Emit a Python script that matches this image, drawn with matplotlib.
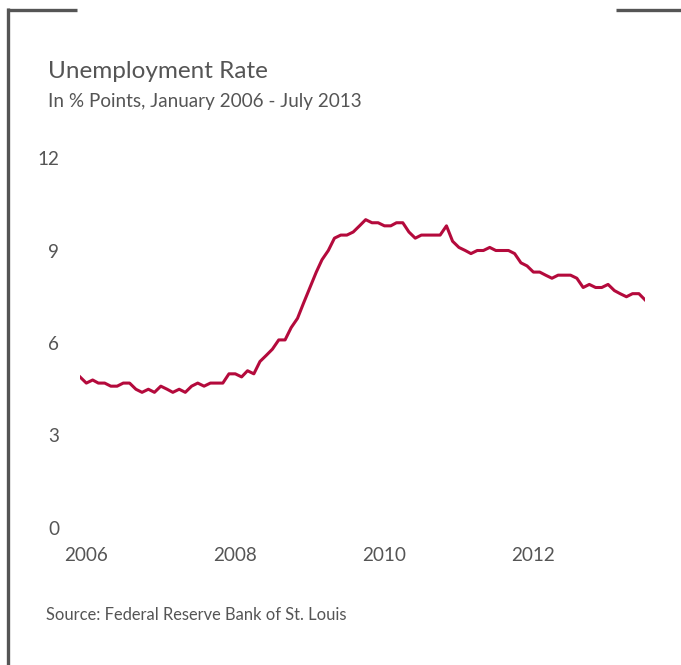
import matplotlib
matplotlib.use("Agg")
import matplotlib.pyplot as plt
from matplotlib.lines import Line2D
import pandas as pd

# ---------------------------------------------------------------------
# Data (monthly unemployment rate, %)
# ---------------------------------------------------------------------
start_month = "2005-12"
rate = [
    4.9,
    4.7, 4.8, 4.7, 4.7, 4.6, 4.6, 4.7, 4.7, 4.5, 4.4, 4.5, 4.4,
    4.6, 4.5, 4.4, 4.5, 4.4, 4.6, 4.7, 4.6, 4.7, 4.7, 4.7, 5.0,
    5.0, 4.9, 5.1, 5.0, 5.4, 5.6, 5.8, 6.1, 6.1, 6.5, 6.8, 7.3,
    7.8, 8.3, 8.7, 9.0, 9.4, 9.5, 9.5, 9.6, 9.8, 10.0, 9.9, 9.9,
    9.8, 9.8, 9.9, 9.9, 9.6, 9.4, 9.5, 9.5, 9.5, 9.5, 9.8, 9.3,
    9.1, 9.0, 8.9, 9.0, 9.0, 9.1, 9.0, 9.0, 9.0, 8.9, 8.6, 8.5,
    8.3, 8.3, 8.2, 8.1, 8.2, 8.2, 8.2, 8.1, 7.8, 7.9, 7.8, 7.8,
    7.9, 7.7, 7.6, 7.5, 7.6, 7.6, 7.4,
]
dates = pd.date_range(start_month, periods=len(rate), freq="MS")

year_ticks = ["2006", "2008", "2010", "2012"]
y_ticks = [0, 3, 6, 9, 12]

TEXT = "#555555"
LINE = "#B40A3C"
FONT = "Lato"

plt.rcParams.update({"font.family": [FONT, "DejaVu Sans"]})

W, H = 681, 665
fig = plt.figure(figsize=(W / 100, H / 100), dpi=100)

ax = fig.add_axes([80 / W, 137 / H, (645 - 80) / W, (507 - 137) / H])
ax.plot(dates, rate, color=LINE, linewidth=2.2, solid_joinstyle="round")

ax.set_xlim(dates[0], dates[-1])
ax.set_ylim(0, 12)
ax.set_yticks(y_ticks, [str(v) for v in y_ticks])
ax.set_xticks(pd.to_datetime([f"{y}-01-01" for y in year_ticks]), year_ticks)

for side in ax.spines.values():
    side.set_visible(False)
ax.tick_params(axis="both", length=0, labelsize=13.6, colors=TEXT)
ax.tick_params(axis="y", pad=15)
ax.tick_params(axis="x", pad=14)

fig.text(48 / W, 1 - 72 / H, "Unemployment Rate", fontsize=17.5,
         color=TEXT, ha="left", va="center")
fig.text(48 / W, 1 - 102 / H, "In % Points, January 2006 - July 2013",
         fontsize=13.6, color=TEXT, ha="left", va="center")
fig.text(46 / W, 1 - 615 / H, "Source: Federal Reserve Bank of St. Louis",
         fontsize=11.9, color=TEXT, ha="left", va="center")

# frame brackets
frame = dict(color="#555555", linewidth=2.4, solid_capstyle="butt")
fig.add_artist(Line2D([8 / W, 8 / W], [1 - 8 / H, 0], **frame))
fig.add_artist(Line2D([6.5 / W, 77 / W], [1 - 9.5 / H, 1 - 9.5 / H], **frame))
fig.add_artist(Line2D([616 / W, 1], [1 - 9.5 / H, 1 - 9.5 / H], **frame))

fig.savefig("out.png", dpi=100, facecolor="white")
